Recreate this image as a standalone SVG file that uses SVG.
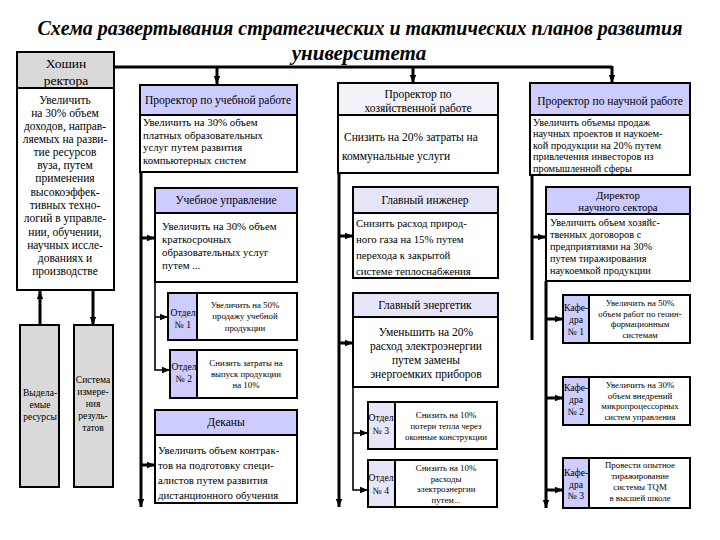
<svg xmlns="http://www.w3.org/2000/svg" width="720" height="540" viewBox="0 0 720 540" font-family="'Liberation Serif', Tinos, 'Times New Roman', 'Noto Serif', FreeSerif, 'DejaVu Serif', serif">
<defs>
<marker id="ah" viewBox="0 0 10 10" refX="10" refY="5" markerWidth="8" markerHeight="8" orient="auto" markerUnits="userSpaceOnUse"><path d="M0,1 L10,5 L0,9 z" fill="#000"/></marker>
</defs>
<style>
text{font-family:'Liberation Serif',Tinos,'Times New Roman','Noto Serif',FreeSerif,'DejaVu Serif',serif;fill:#000}
.title{font-size:21px;font-weight:bold;font-style:italic}
.b{fill:#fff;stroke:#000;stroke-width:2}
.h{fill:#ccccff;stroke:#000;stroke-width:2}
.hl{fill:#e6e6f8;stroke:#000;stroke-width:2}
.hw{fill:#f2f2fb;stroke:#000;stroke-width:2}
.g{fill:#d9d9d9;stroke:#000;stroke-width:2}
.f12{font-size:11.5px}
.f11{font-size:10.8px}
.f10s{font-size:10.3px}
.f10{font-size:9.6px}
.f9{font-size:8.8px}
.f14{font-size:13.5px}
.c{text-anchor:middle}
.thick{stroke:#000;stroke-width:3;fill:none}
.thin{stroke:#000;stroke-width:1.6;fill:none}
</style>
<rect width="720" height="540" fill="#fff"/>
<g id="title">
<text class="title c" x="360" y="35" textLength="645" lengthAdjust="spacingAndGlyphs">Схема развертывания стратегических и тактических планов развития</text>
<text class="title c" x="359" y="60">университета</text>
</g>
<g id="connectors">
<path class="thick" d="M115,67 H612"/>
<path class="thick" d="M217,66 V84" marker-end="url(#ah)"/>
<path class="thick" d="M413,66 V83" marker-end="url(#ah)"/>
<path class="thick" d="M612,66 V83" marker-end="url(#ah)"/>
<path class="thick" d="M40,325 V291" marker-end="url(#ah)"/>
<path class="thick" d="M93,291 V325" marker-end="url(#ah)"/>
<path class="thick" d="M141,172 V507" marker-end="url(#ah)"/>
<path class="thick" d="M141,238 H155" marker-end="url(#ah)"/>
<path class="thick" d="M141,465 H155" marker-end="url(#ah)"/>
<path class="thin" d="M155,282 V370 H170" marker-end="url(#ah)"/>
<path class="thin" d="M155,317 H168" marker-end="url(#ah)"/>
<path class="thick" d="M339,173 V507" marker-end="url(#ah)"/>
<path class="thick" d="M339,236 H353" marker-end="url(#ah)"/>
<path class="thick" d="M339,343 H353" marker-end="url(#ah)"/>
<path class="thin" d="M353,387 V490 H368" marker-end="url(#ah)"/>
<path class="thin" d="M353,433 H368" marker-end="url(#ah)"/>
<path class="thick" d="M532,175 V340"/>
<path class="thick" d="M532,237 H546" marker-end="url(#ah)"/>
<path class="thick" d="M546,281 V508" marker-end="url(#ah)"/>
<path class="thick" d="M546,319 H563" marker-end="url(#ah)"/>
<path class="thick" d="M546,398 H563" marker-end="url(#ah)"/>
<path class="thick" d="M546,490 H563" marker-end="url(#ah)"/>
</g>
<g id="rector">
<rect class="g" x="17" y="52" width="97" height="36"/>
<rect class="b" x="17" y="88" width="97" height="202"/>
<text class="f14 c" x="66" y="68">Хошин</text>
<text class="f14 c" x="66" y="85">ректора</text>
<text class="f12 c" x="65" y="104">Увеличить</text>
<text class="f12 c" x="65" y="117">на 30% объем</text>
<text class="f12 c" x="65" y="130">доходов, направ-</text>
<text class="f12 c" x="65" y="143">ляемых на разви-</text>
<text class="f12 c" x="65" y="156">тие ресурсов</text>
<text class="f12 c" x="65" y="169">вуза, путем</text>
<text class="f12 c" x="65" y="182">применения</text>
<text class="f12 c" x="65" y="196">высокоэффек-</text>
<text class="f12 c" x="65" y="209">тивных техно-</text>
<text class="f12 c" x="65" y="222">логий в управле-</text>
<text class="f12 c" x="65" y="236">нии, обучении,</text>
<text class="f12 c" x="65" y="249">научных иссле-</text>
<text class="f12 c" x="65" y="262">дованиях и</text>
<text class="f12 c" x="65" y="275">производстве</text>
</g>
<g id="resources">
<rect class="g" x="20" y="325" width="39" height="162"/>
<text class="f10 c" x="40" y="396">Выдела-</text>
<text class="f10 c" x="40" y="408">емые</text>
<text class="f10 c" x="40" y="420">ресурсы</text>
</g>
<g id="measure">
<rect class="g" x="74" y="325" width="39" height="162"/>
<text class="f10 c" x="93" y="383">Система</text>
<text class="f10 c" x="93" y="395">измере-</text>
<text class="f10 c" x="93" y="407">ния</text>
<text class="f10 c" x="93" y="419">резуль-</text>
<text class="f10 c" x="93" y="431">татов</text>
</g>
<g id="prorector-edu">
<rect class="h" x="140" y="85" width="157" height="30"/>
<rect class="b" x="140" y="115" width="157" height="57"/>
<text class="f12 c" x="218" y="104">Проректор по учебной работе</text>
<text class="f11" x="143" y="126">Увеличить на 30% объем</text>
<text class="f11" x="143" y="138.5">платных образовательных</text>
<text class="f11" x="143" y="151">услуг путем развития</text>
<text class="f11" x="143" y="163.5">компьютерных систем</text>
</g>
<g id="edu-dept">
<rect class="h" x="155" y="188" width="142" height="25"/>
<rect class="b" x="155" y="213" width="142" height="69"/>
<text class="f12 c" x="226" y="204">Учебное управление</text>
<text class="f11" x="162" y="230">Увеличить на 30% объем</text>
<text class="f11" x="162" y="243">краткосрочных</text>
<text class="f11" x="162" y="256">образовательных услуг</text>
<text class="f11" x="162" y="269">путем ...</text>
</g>
<g id="otdel1">
<rect class="b" x="168" y="293" width="129" height="47"/>
<rect class="h" x="168" y="293" width="29" height="47"/>
<text class="f10 c" x="183" y="316">Отдел</text>
<text class="f10 c" x="183" y="328">№ 1</text>
<text class="f9 c" x="245" y="308">Увеличить на 50%</text>
<text class="f9 c" x="245" y="319">продажу учебной</text>
<text class="f9 c" x="245" y="331">продукции</text>
</g>
<g id="otdel2">
<rect class="b" x="170" y="350" width="127" height="48"/>
<rect class="h" x="170" y="350" width="27" height="48"/>
<text class="f10 c" x="184" y="370">Отдел</text>
<text class="f10 c" x="184" y="382">№ 2</text>
<text class="f9 c" x="246" y="366">Снизить затраты на</text>
<text class="f9 c" x="246" y="377">выпуск продукции</text>
<text class="f9 c" x="246" y="388">на 10%</text>
</g>
<g id="deans">
<rect class="h" x="155" y="410" width="142" height="25"/>
<rect class="b" x="155" y="435" width="142" height="68"/>
<text class="f12 c" x="226" y="426">Деканы</text>
<text class="f11" x="158" y="454">Увеличить объем контрак-</text>
<text class="f11" x="158" y="469">тов на подготовку специ-</text>
<text class="f11" x="158" y="484">алистов путем развития</text>
<text class="f11" x="158" y="499">дистанционного обучения</text>
</g>
<g id="prorector-econ">
<rect class="hw" x="338" y="83" width="160" height="32"/>
<rect class="b" x="338" y="115" width="160" height="58"/>
<text class="f12 c" x="418" y="98">Проректор по</text>
<text class="f12 c" x="418" y="112">хозяйственной работе</text>
<text class="f12" x="344" y="141">Снизить на 20% затраты на</text>
<text class="f12" x="342" y="160">коммунальные услуги</text>
</g>
<g id="chief-engineer">
<rect class="hl" x="353" y="187" width="145" height="26"/>
<rect class="b" x="353" y="213" width="145" height="65"/>
<text class="f12 c" x="425" y="204">Главный инженер</text>
<text class="f11" x="356" y="227">Снизить расход природ-</text>
<text class="f11" x="356" y="243">ного газа на 15% путем</text>
<text class="f11" x="356" y="259">перехода к закрытой</text>
<text class="f11" x="356" y="275">системе теплоснабжения</text>
</g>
<g id="chief-power">
<rect class="hl" x="353" y="293" width="145" height="24"/>
<rect class="b" x="353" y="317" width="145" height="70"/>
<text class="f12 c" x="425" y="309">Главный энергетик</text>
<text class="f12 c" x="426" y="336">Уменьшить на 20%</text>
<text class="f12 c" x="426" y="350">расход электроэнергии</text>
<text class="f12 c" x="426" y="364">путем замены</text>
<text class="f12 c" x="426" y="378">энергоемких приборов</text>
</g>
<g id="otdel3">
<rect class="b" x="368" y="402" width="129" height="47"/>
<rect class="hl" x="368" y="402" width="27" height="47"/>
<text class="f10 c" x="381" y="421">Отдел</text>
<text class="f10 c" x="381" y="434">№ 3</text>
<text class="f9 c" x="446" y="418">Снизить на 10%</text>
<text class="f9 c" x="446" y="429">потери тепла через</text>
<text class="f9 c" x="446" y="440">оконные конструкции</text>
</g>
<g id="otdel4">
<rect class="b" x="368" y="460" width="129" height="47"/>
<rect class="hl" x="368" y="460" width="27" height="47"/>
<text class="f10 c" x="381" y="481">Отдел</text>
<text class="f10 c" x="381" y="494">№ 4</text>
<text class="f9 c" x="446" y="471">Снизить на 10%</text>
<text class="f9 c" x="446" y="481.5">расходы</text>
<text class="f9 c" x="446" y="492">электроэнергии</text>
<text class="f9 c" x="446" y="502.5">путем...</text>
</g>
<g id="prorector-sci">
<rect class="h" x="530" y="83" width="160" height="32"/>
<rect class="b" x="530" y="115" width="160" height="60"/>
<text class="f12 c" x="610" y="105">Проректор по научной работе</text>
<text class="f10s" x="533" y="125.5">Увеличить объемы продаж</text>
<text class="f10s" x="533" y="137">научных проектов и наукоем-</text>
<text class="f10s" x="533" y="148.5">кой продукции на 20% путем</text>
<text class="f10s" x="533" y="160">привлечения инвесторов из</text>
<text class="f10s" x="533" y="171.5">промышленной сферы</text>
</g>
<g id="director-sci">
<rect class="h" x="546" y="187" width="144" height="27"/>
<rect class="b" x="546" y="214" width="144" height="67"/>
<text class="f11 c" x="618" y="199">Директор</text>
<text class="f11 c" x="618" y="211">научного сектора</text>
<text class="f10s" x="550" y="226">Увеличить объем хозяйс-</text>
<text class="f10s" x="550" y="238">твенных договоров с</text>
<text class="f10s" x="550" y="250">предприятиями на 30%</text>
<text class="f10s" x="550" y="262">путем тиражирования</text>
<text class="f10s" x="550" y="274">наукоемкой продукции</text>
</g>
<g id="kafedra1">
<rect class="b" x="563" y="295" width="127" height="48"/>
<rect class="h" x="563" y="295" width="26" height="48"/>
<text class="f10 c" x="576" y="311">Кафе-</text>
<text class="f10 c" x="576" y="323">дра</text>
<text class="f10 c" x="576" y="335">№ 1</text>
<text class="f9 c" x="640" y="306">Увеличить на 50%</text>
<text class="f9 c" x="640" y="316.5">объем работ по геоин-</text>
<text class="f9 c" x="640" y="327">формационным</text>
<text class="f9 c" x="640" y="337.5">системам</text>
</g>
<g id="kafedra2">
<rect class="b" x="563" y="377" width="127" height="48"/>
<rect class="h" x="563" y="377" width="26" height="48"/>
<text class="f10 c" x="576" y="391">Кафе-</text>
<text class="f10 c" x="576" y="403">дра</text>
<text class="f10 c" x="576" y="415">№ 2</text>
<text class="f9 c" x="640" y="388">Увеличить на 30%</text>
<text class="f9 c" x="640" y="398.5">объем внедрений</text>
<text class="f9 c" x="640" y="409">микропроцессорных</text>
<text class="f9 c" x="640" y="419.5">систем управления</text>
</g>
<g id="kafedra3">
<rect class="b" x="563" y="458" width="127" height="50"/>
<rect class="h" x="563" y="458" width="26" height="50"/>
<text class="f10 c" x="576" y="476">Кафе-</text>
<text class="f10 c" x="576" y="488">дра</text>
<text class="f10 c" x="576" y="499">№ 3</text>
<text class="f9 c" x="640" y="468">Провести опытное</text>
<text class="f9 c" x="640" y="479">тиражирование</text>
<text class="f9 c" x="640" y="490">системы TQM</text>
<text class="f9 c" x="640" y="501">в высшей школе</text>
</g>
</svg>
